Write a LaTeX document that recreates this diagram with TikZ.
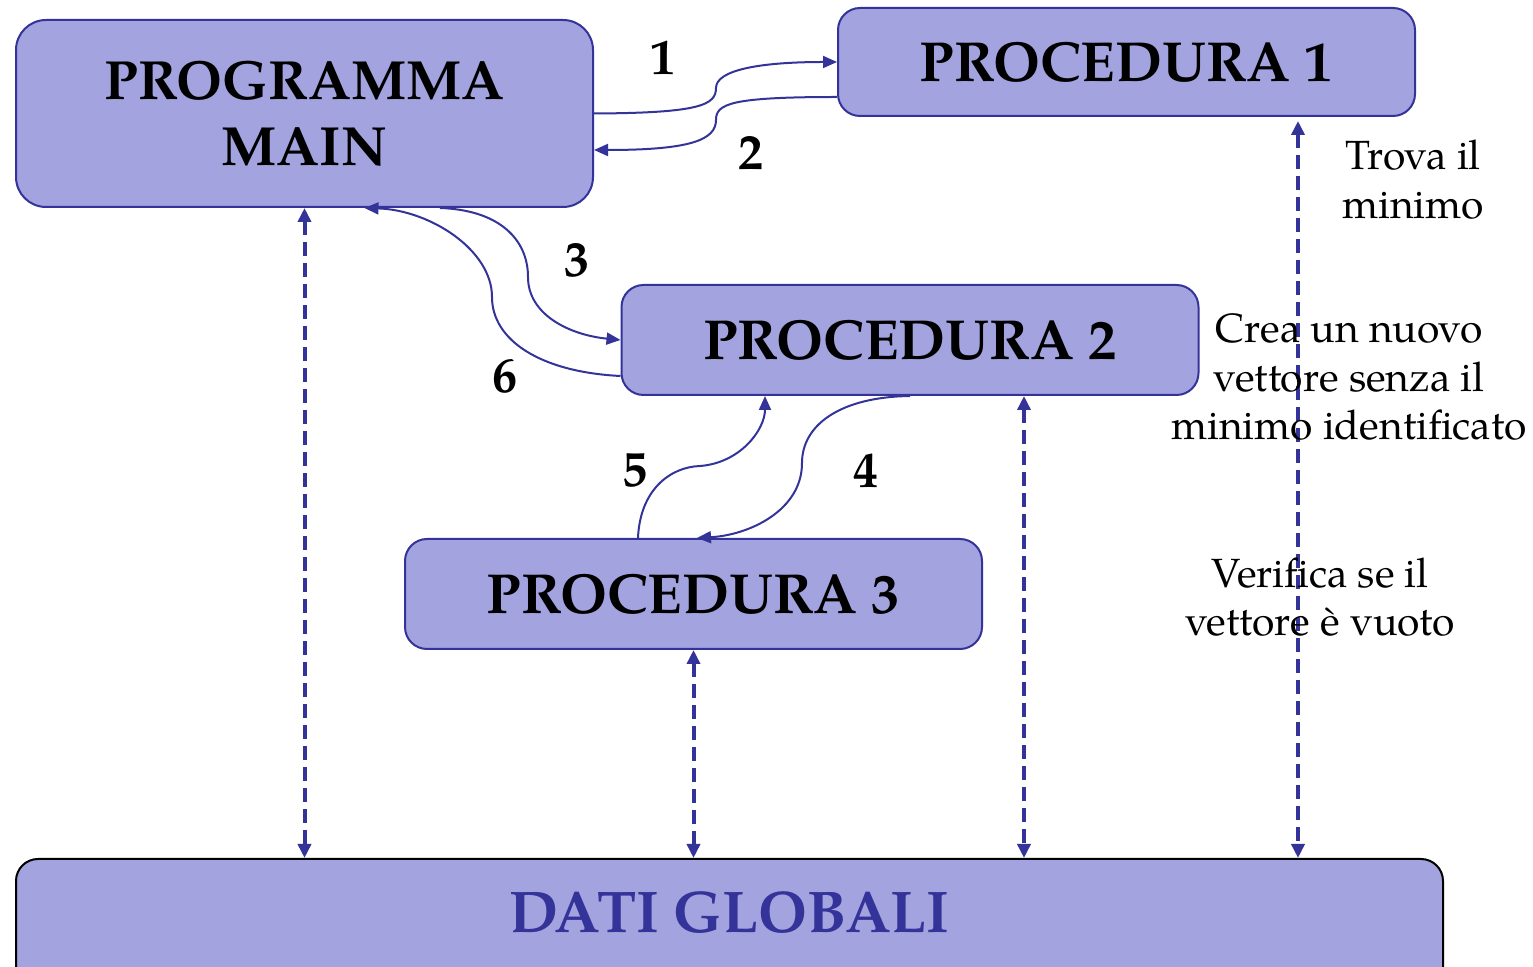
\documentclass[tikz,border=0pt]{standalone}
\usepackage{fontspec}
\setmainfont{TeX Gyre Pagella}
\usetikzlibrary{arrows.meta}
\definecolor{procline}{HTML}{333399}
\definecolor{procfill}{HTML}{A3A3DF}
\tikzset{
  procbox/.style={draw=procline,fill=procfill,line width=1pt,rounded corners=11pt,inner sep=0pt,
    minimum width=288.5pt,minimum height=54pt,font=\fontsize{28.2}{33}\selectfont\bfseries},
  call/.style={draw=procline,line width=1pt,-{Triangle[length=7pt,width=6pt]}},
  shared/.style={draw=procline,line width=2pt,dash pattern=on 7pt off 3.5pt,
    {Triangle[length=7pt,width=6.5pt]}-{Triangle[length=7pt,width=6.5pt]}},
  num/.style={font=\fontsize{25}{25}\selectfont\bfseries},
  note/.style={font=\fontsize{20.4}{24.4}\selectfont,align=center}
}
\begin{document}
\begin{tikzpicture}[x=0.5pt,y=-0.5pt]
\useasboundingbox (0,0) rectangle (1533,967);
\node[procbox,align=center,minimum height=93.5pt,rounded corners=15pt,font=\fontsize{27.6}{33}\selectfont\bfseries] (main) at (304.5,113.5) {PROGRAMMA\\MAIN};
\node[procbox] (proc1) at (1126.5,62) {PROCEDURA 1};
\node[procbox,minimum height=55pt] (proc2) at (910,340) {PROCEDURA 2};
\node[procbox,minimum height=55pt] (proc3) at (693.5,594) {PROCEDURA 3};
\node[procbox,draw=black,text=procline,font=\fontsize{29.4}{33}\selectfont\bfseries,minimum width=713.5pt,minimum height=72pt,text depth=19pt,anchor=north] (dati) at (729.5,858) {DATI GLOBALI};
\draw[call] (main.east) .. controls (700,113) and (716,105) .. (716,88) .. controls (716,70) and (760,62) .. (proc1.west);
\draw[call] ([yshift=-17.5pt]proc1.west) .. controls (730,97) and (716,104) .. (716,120) .. controls (716,140) and (690,150) .. ([yshift=-18.25pt]main.east);
\draw[call] ([xshift=67.75pt]main.south) .. controls (500,210) and (528,240) .. (528,277) .. controls (528,315) and (570,335) .. (proc2.west);
\draw[call] ([yshift=-18pt]proc2.west) .. controls (540,372) and (492,340) .. (492,297) .. controls (492,250) and (430,210) .. ([xshift=30pt]main.south);
\draw[call] ([xshift=-27.75pt]proc3.north) .. controls (640,490) and (670,467) .. (700,466) .. controls (740,463) and (765,430) .. ([xshift=-72.5pt]proc2.south);
\draw[call] (proc2.south) .. controls (840,397) and (802,425) .. (802,463) .. controls (802,510) and (750,535) .. ([xshift=1.75pt]proc3.north);
\coordinate (p2d) at ([xshift=57pt]proc2.south);
\coordinate (p1d) at ([xshift=85.75pt,yshift=-2pt]proc1.south);
\draw[shared] (main.south) -- (main.south |- dati.north);
\draw[shared] (proc3.south) -- (proc3.south |- dati.north);
\draw[shared] (p2d) -- (p2d |- dati.north);
\draw[shared] (p1d) -- (p1d |- dati.north);
\node[num] (n1) at (663,58) {1};
\node[num] (n2) at (751,153) {2};
\node[num] (n3) at (577,260) {3};
\node[num] (n4) at (866,471) {4};
\node[num] (n5) at (635,471) {5};
\node[num] (n6) at (505,376) {6};
\node[note] (trova) at (1413,180) {Trova il\\minimo};
\node[note] (crea) at (1349,377) {Crea un nuovo\\vettore senza il\\minimo identificato};
\node[note] (verifica) at (1320,597) {Verifica se il\\vettore è vuoto};
\end{tikzpicture}
\end{document}
